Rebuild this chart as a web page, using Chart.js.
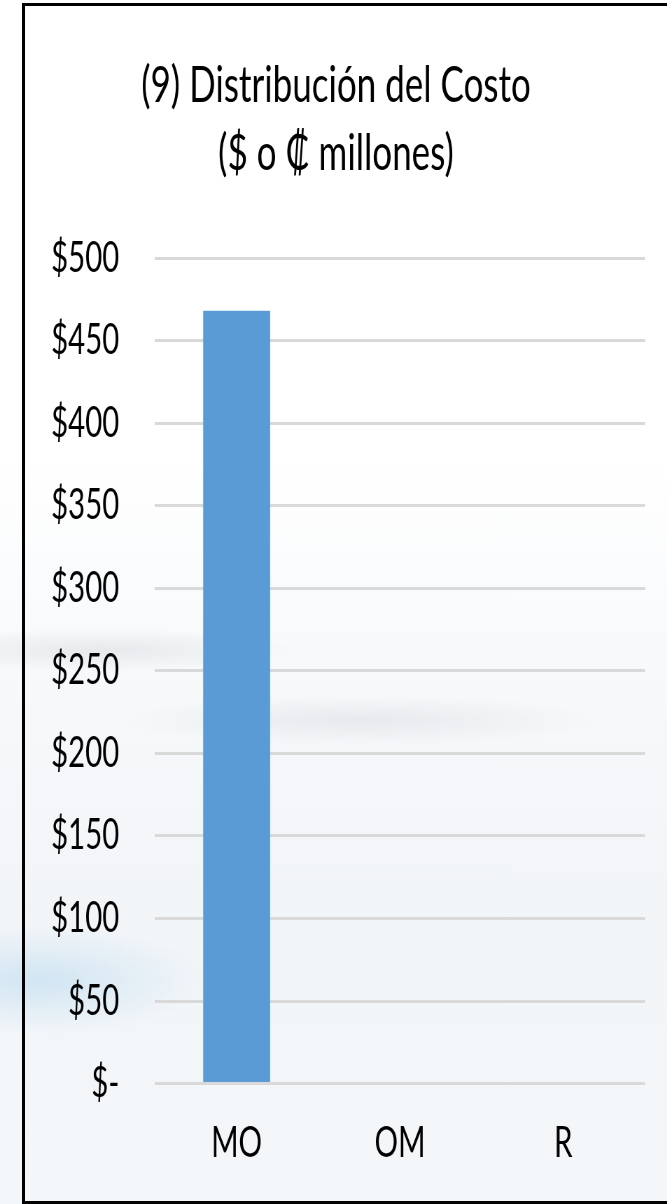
<!DOCTYPE html>
<html>
<head>
<meta charset="utf-8">
<script src="https://cdn.jsdelivr.net/npm/chart.js@4.4.0/dist/chart.umd.min.js"></script>
<style>
  html, body {
    margin: 0;
    padding: 0;
    width: 667px;
    height: 1204px;
    overflow: hidden;
  }
  body {
    position: relative;
    background:
      radial-gradient(ellipse 170px 55px at 40px 980px, rgba(195, 222, 240, 0.7), rgba(195, 222, 240, 0) 100%),
      radial-gradient(ellipse 240px 26px at 360px 720px, rgba(170, 175, 180, 0.2), rgba(170, 175, 180, 0) 100%),
      radial-gradient(ellipse 200px 22px at 100px 650px, rgba(170, 175, 180, 0.22), rgba(170, 175, 180, 0) 100%),
      linear-gradient(to bottom, #ffffff 0%, #ffffff 38%, #f7f9fb 55%, #f2f5f8 75%, #f4f7f9 100%);
  }
  .frame {
    position: absolute;
    left: 22px;
    top: 3px;
    width: 700px;
    height: 1201px;
    border: 3px solid #000;
    box-sizing: border-box;
  }
  /* the reference is a horizontally squeezed picture, so the chart is drawn wider and squeezed */
  .chart-box {
    position: absolute;
    left: 0;
    top: 0;
    width: 953px;
    height: 1204px;
    transform: scaleX(0.7);
    transform-origin: 0 0;
  }
</style>
</head>
<body>
<div class="frame"></div>
<div class="chart-box">
  <canvas id="cost-chart"></canvas>
</div>
<script>
const categories = ['MO', 'OM', 'R'];
const costValues = [468, 0, 0];
const titleLines = ['(9) Distribución del Costo', '($ o ₡ millones)'];
const yMin = 0;
const yMax = 500;
const yStep = 50;

Chart.defaults.color = '#000';
Chart.defaults.font.family = 'Lato, "Open Sans", sans-serif';

const ctx = document.getElementById('cost-chart').getContext('2d');

const chartData = {
  labels: categories,
  datasets: [{
    label: 'Costo',
    data: costValues,
    backgroundColor: '#5b9bd5',
    borderWidth: 0,
    categoryPercentage: 1,
    barPercentage: 0.41
  }]
};

const chartOptions = {
  responsive: true,
  maintainAspectRatio: false,
  animation: false,
  layout: {
    padding: { left: 38.6, right: 31.6, top: 0, bottom: 0 }
  },
  scales: {
    x: {
      grid: { display: false, drawTicks: false },
      border: { display: false },
      ticks: {
        padding: 35,
        font: { size: 42 }
      }
    },
    y: {
      min: yMin,
      max: yMax,
      afterFit: (scale) => {
        scale.width = 182.8;
      },
      grid: {
        color: '#d9d9d9',
        lineWidth: 3,
        drawTicks: false
      },
      border: { display: false },
      ticks: {
        stepSize: yStep,
        padding: 51,
        font: { size: 42 },
        callback: (value) => value === 0 ? '$-' : '$' + value
      }
    }
  },
  plugins: {
    legend: { display: false },
    tooltip: { enabled: false },
    title: {
      display: true,
      text: titleLines,
      color: '#000',
      font: { size: 50, weight: 'normal', lineHeight: 1.36 },
      padding: { top: 52, bottom: 70 }
    }
  }
};

const costChart = new Chart(ctx, {
  type: 'bar',
  data: chartData,
  options: chartOptions
});
</script>
</body>
</html>
